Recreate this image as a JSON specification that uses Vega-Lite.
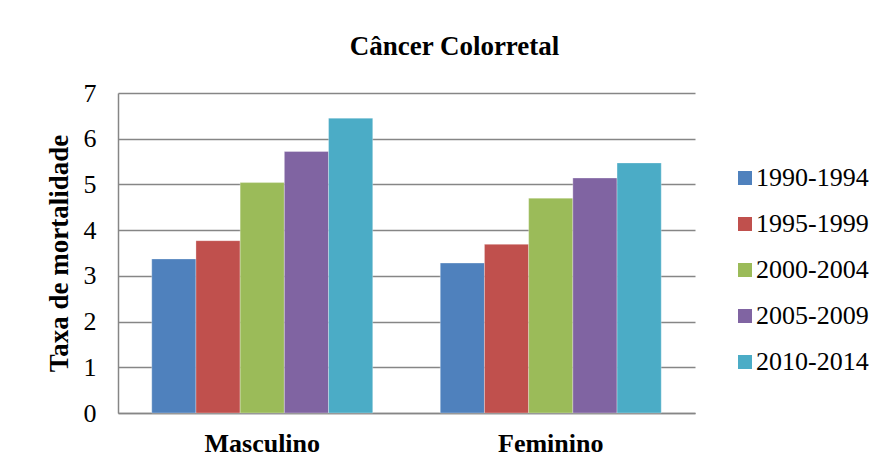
{
  "$schema": "https://vega.github.io/schema/vega-lite/v6.json",
  "autosize": {"type": "none"},
  "width": 577,
  "height": 320,
  "padding": {"left": 118, "top": 93, "right": 190, "bottom": 57},
  "background": "white",
  "title": {
    "text": "Câncer Colorretal",
    "font": "Liberation Serif",
    "fontSize": 27,
    "fontWeight": "bold",
    "color": "black",
    "anchor": "middle",
    "frame": "group",
    "dx": 48,
    "offset": 19
  },
  "data": {
    "values": [
      {"sexo": "Masculino", "periodo": "1990-1994", "taxa": 3.37},
      {"sexo": "Masculino", "periodo": "1995-1999", "taxa": 3.77},
      {"sexo": "Masculino", "periodo": "2000-2004", "taxa": 5.04},
      {"sexo": "Masculino", "periodo": "2005-2009", "taxa": 5.72},
      {"sexo": "Masculino", "periodo": "2010-2014", "taxa": 6.45},
      {"sexo": "Feminino", "periodo": "1990-1994", "taxa": 3.28},
      {"sexo": "Feminino", "periodo": "1995-1999", "taxa": 3.69},
      {"sexo": "Feminino", "periodo": "2000-2004", "taxa": 4.70},
      {"sexo": "Feminino", "periodo": "2005-2009", "taxa": 5.14},
      {"sexo": "Feminino", "periodo": "2010-2014", "taxa": 5.47}
    ]
  },
  "mark": {"type": "bar", "stroke": "white", "strokeWidth": 0.5, "strokeOpacity": 0.6},
  "encoding": {
    "x": {
      "field": "sexo",
      "type": "nominal",
      "sort": ["Masculino", "Feminino"],
      "scale": {"paddingInner": 0.234, "paddingOuter": 0.117},
      "axis": {
        "title": null,
        "labelAngle": 0,
        "labelFont": "Liberation Serif",
        "labelFontSize": 26,
        "labelFontWeight": "bold",
        "labelColor": "black",
        "labelPadding": 17,
        "ticks": false,
        "domainColor": "#868686",
        "domainWidth": 1.5
      }
    },
    "xOffset": {
      "field": "periodo",
      "type": "nominal",
      "scale": {"paddingInner": 0, "paddingOuter": 0}
    },
    "y": {
      "field": "taxa",
      "type": "quantitative",
      "scale": {"domain": [0, 7], "nice": false},
      "axis": {
        "title": "Taxa de mortalidade",
        "titleFont": "Liberation Serif",
        "titleFontSize": 27,
        "titleFontWeight": "bold",
        "titleColor": "black",
        "titlePadding": 10,
        "values": [0, 1, 2, 3, 4, 5, 6, 7],
        "labelFont": "Liberation Serif",
        "labelFontSize": 26,
        "labelColor": "black",
        "labelPadding": 22,
        "ticks": false,
        "grid": true,
        "gridColor": "#868686",
        "gridWidth": 1.3,
        "domainColor": "#868686",
        "domainWidth": 1.5
      }
    },
    "color": {
      "field": "periodo",
      "type": "nominal",
      "scale": {
        "domain": ["1990-1994", "1995-1999", "2000-2004", "2005-2009", "2010-2014"],
        "range": ["#4F81BD", "#C0504D", "#9BBB59", "#8064A2", "#4BACC6"]
      },
      "legend": {
        "title": null,
        "orient": "none",
        "legendX": 614,
        "legendY": 72,
        "symbolType": "square",
        "symbolSize": 196,
        "symbolStrokeWidth": 0,
        "labelFont": "Liberation Serif",
        "labelFontSize": 26,
        "labelColor": "black",
        "labelOffset": -2,
        "rowPadding": 20
      }
    }
  },
  "config": {
    "view": {"stroke": null}
  }
}
